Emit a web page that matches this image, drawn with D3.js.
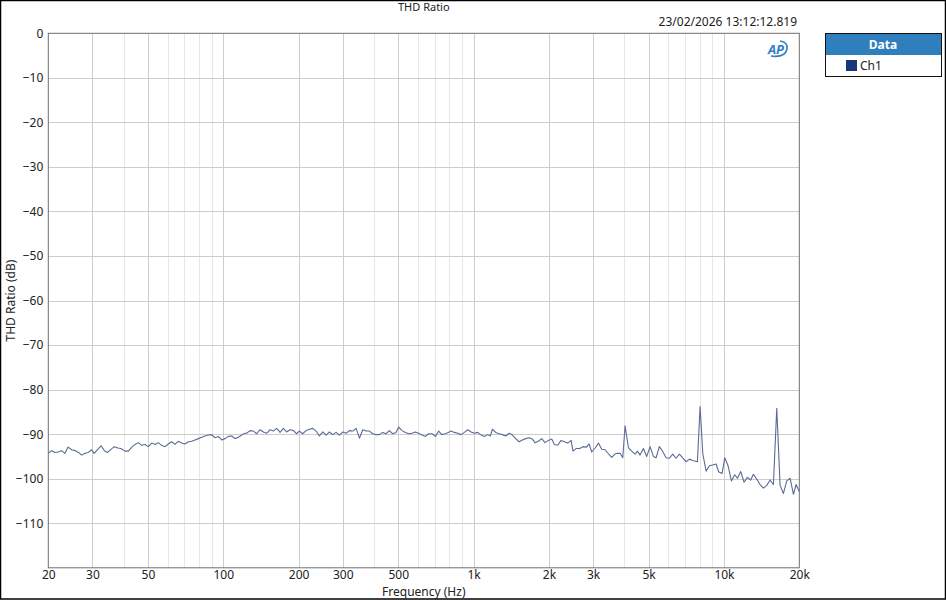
<!DOCTYPE html>
<html>
<head>
<meta charset="utf-8">
<script src="https://cdn.jsdelivr.net/npm/d3@7"></script>
<style>
  body { margin: 0; background: #fff; }
  svg { display: block; font-family: "Segoe UI", "Noto Sans", "Open Sans", sans-serif; }
</style>
</head>
<body>
<div id="chart"></div>
<script>
const freqs = [
  20.0, 20.6, 21.3, 21.9, 22.6, 23.3, 24.0, 24.8, 25.6, 26.4, 27.2, 28.0, 28.9, 29.8, 30.5,
  31.5, 32.5, 33.5, 34.5, 35.6, 36.7, 37.9, 39.0, 40.5, 41.8, 43.1, 44.4, 45.8, 47.2, 48.7,
  50.2, 51.8, 53.4, 55.0, 56.7, 58.5, 60.3, 62.2, 64.1, 66.1, 68.2, 70.3, 72.5, 74.8, 77.1,
  79.5, 82.0, 84.5, 87.2, 89.9, 92.7, 95.6, 98.6, 101.6, 104.8, 108.1, 111.4, 114.9, 118.5, 122.2,
  124.0, 127.9, 131.9, 136.0, 140.2, 144.6, 149.1, 153.8, 158.5, 163.5, 168.6, 173.8, 179.2, 184.8, 190.6,
  196.5, 201.3, 207.6, 214.1, 220.8, 227.7, 234.8, 242.1, 249.7, 257.5, 265.5, 273.8, 282.3, 291.1, 300.2,
  309.5, 319.2, 329.1, 339.3, 349.9, 360.7, 371.9, 383.5, 395.4, 407.7, 420.3, 433.4, 446.8, 460.7, 475.0,
  489.8, 502.1, 517.7, 533.8, 550.4, 567.6, 585.3, 603.5, 622.3, 641.7, 661.7, 682.3, 703.6, 725.5,
  745.8, 769.0, 793.0, 812.7, 838.1, 864.2, 891.1, 918.8, 947.5, 977.0, 1007, 1039, 1071, 1104, 1139,
  1167, 1189, 1226, 1264, 1303, 1344, 1386, 1429, 1473, 1519, 1566, 1615, 1665, 1717, 1759,
  1814, 1871, 1929, 1989, 2052, 2102, 2168, 2236, 2305, 2377, 2451, 2496, 2574, 2654, 2737,
  2823, 2892, 2964, 3057, 3152, 3250, 3352, 3456, 3564, 3675, 3789,
  3848, 3943, 4028, 4153, 4282, 4416, 4512, 4624, 4768, 4916, 5069, 5226, 5356, 5523, 5695,
  5872, 6056, 6244, 6438, 6639, 6845, 7058, 7279, 7505, 7834, 8031, 8230, 8486, 8750, 9022,
  9303, 9533, 9830, 10074, 10388, 10710, 11044, 11318, 11671, 12034, 12409, 12795, 13112, 13520, 13942,
  14376, 14825, 15287, 15762, 16255, 16762, 17284, 17822, 18378, 18952, 19422, 20000
];
const thd = [
  -94.3, -93.7, -94.1, -94.0, -93.7, -94.3, -92.9, -93.5, -93.7, -94.1, -94.7, -94.3, -94.1, -93.5, -94.3,
  -93.4, -92.6, -93.7, -94.1, -93.4, -92.8, -93.1, -93.2, -93.8, -93.8, -92.9, -92.3, -91.9, -92.5, -92.3,
  -92.8, -92.0, -92.3, -91.9, -92.5, -92.8, -92.2, -91.7, -92.3, -91.6, -92.0, -92.2, -91.7, -91.6, -91.3,
  -91.0, -90.7, -90.4, -90.2, -90.1, -90.8, -90.5, -91.3, -91.0, -90.5, -90.4, -91.0, -90.7, -90.2, -89.8,
  -89.8, -89.2, -89.3, -89.9, -89.0, -89.5, -89.8, -89.0, -89.3, -88.7, -89.6, -88.7, -89.5, -89.0, -89.2,
  -89.9, -89.3, -89.9, -89.2, -88.9, -88.7, -89.3, -90.4, -89.5, -90.2, -89.5, -90.1, -89.6, -90.2, -89.5,
  -89.8, -89.2, -89.3, -88.7, -90.9, -89.0, -89.3, -89.3, -89.9, -90.1, -90.1, -89.6, -89.9, -89.2, -89.9,
  -89.6, -88.4, -89.2, -89.6, -89.9, -89.8, -89.5, -89.8, -90.2, -90.5, -89.9, -89.9, -90.5, -89.3,
  -90.1, -89.9, -89.6, -89.3, -89.6, -89.8, -90.1, -89.6, -89.0, -89.5, -89.8, -89.6, -90.2, -90.5, -90.1,
  -90.4, -88.9, -89.6, -89.9, -90.1, -90.4, -89.8, -90.2, -91.0, -91.7, -91.3, -91.0, -90.8, -91.1, -91.9,
  -91.6, -91.0, -91.9, -91.4, -91.1, -92.3, -92.5, -91.4, -91.7, -92.0, -91.4, -93.8, -93.2, -93.2, -92.8,
  -92.9, -92.2, -94.0, -93.1, -92.0, -93.4, -93.5, -94.4, -95.2, -94.4, -94.3,
  -94.3, -95.3, -88.1, -93.0, -93.8, -94.5, -93.8, -94.7, -93.2, -95.0, -92.8, -95.0, -95.3, -92.8, -93.9,
  -95.3, -95.4, -94.5, -95.4, -94.5, -95.3, -96.2, -95.6, -95.9, -96.2, -83.8, -94.3, -98.3, -97.1, -96.9,
  -96.7, -98.5, -98.8, -95.3, -97.1, -100.5, -99.1, -99.9, -98.4, -100.8, -99.7, -100.3, -99.0, -100.1, -101.3,
  -102.1, -101.5, -100.3, -101.3, -84.2, -101.5, -103.3, -100.5, -99.9, -103.5, -101.3, -102.9
];

const xTickVals = [20, 30, 50, 100, 200, 300, 500, 1000, 2000, 3000, 5000, 10000, 20000];
const xTickLabels = ["20", "30", "50", "100", "200", "300", "500", "1k", "2k", "3k", "5k", "10k", "20k"];
const yTickVals = [0, -10, -20, -30, -40, -50, -60, -70, -80, -90, -100, -110];

const width = 946, height = 600;
const plotLeft = 48.3, plotRight = 799.3, plotTop = 33.3, plotBottom = 567.8;

const svg = d3.select("#chart").append("svg")
    .attr("width", width)
    .attr("height", height);

const x = d3.scaleLog().domain([20, 20000]).range([plotLeft, plotRight]);
const y = d3.scaleLinear().domain([-120, 0]).range([plotBottom, plotTop]);

// outer frame
svg.append("rect")
    .attr("x", 0.5).attr("y", 0.5)
    .attr("width", width - 1).attr("height", height - 1.5)
    .attr("fill", "none").attr("stroke", "#000").attr("stroke-width", 1.5);

// grid: every 1..9 multiple on the log axis, labelled ones a bit darker
const gridFreqs = [];
for (let dec = 10; dec <= 10000; dec *= 10) {
    for (let m = 1; m <= 9; m++) {
        const f = m * dec;
        if (f > 20 && f < 20000) gridFreqs.push(f);
    }
}
svg.append("g").selectAll("line")
    .data(gridFreqs)
    .enter().append("line")
    .attr("x1", d => Math.round(x(d)) + 0.5).attr("x2", d => Math.round(x(d)) + 0.5)
    .attr("y1", plotTop).attr("y2", plotBottom)
    .attr("stroke", d => xTickVals.includes(d) ? "#cdcdcd" : "#e6e6e6")
    .attr("stroke-width", 1);

svg.append("g").selectAll("line")
    .data(yTickVals.filter(d => d !== 0))
    .enter().append("line")
    .attr("x1", plotLeft).attr("x2", plotRight)
    .attr("y1", d => Math.round(y(d)) + 0.5).attr("y2", d => Math.round(y(d)) + 0.5)
    .attr("stroke", "#cdcdcd").attr("stroke-width", 1);

// plot frame
svg.append("rect")
    .attr("x", plotLeft).attr("y", plotTop)
    .attr("width", plotRight - plotLeft).attr("height", plotBottom - plotTop)
    .attr("fill", "none").attr("stroke", "#6e6e6e").attr("stroke-width", 1);

// axes
const xAxis = svg.append("g")
    .attr("transform", `translate(0, ${plotBottom})`)
    .call(d3.axisBottom(x)
        .tickValues(xTickVals)
        .tickFormat((d, i) => xTickLabels[i])
        .tickSize(0)
        .tickPadding(3));
xAxis.select(".domain").remove();
xAxis.selectAll("text").attr("font-size", 12).attr("fill", "#222")
    .style("font-family", "\"Segoe UI\", \"Noto Sans\", sans-serif");

const yAxis = svg.append("g")
    .attr("transform", `translate(${plotLeft}, 0)`)
    .call(d3.axisLeft(y)
        .tickValues(yTickVals)
        .tickFormat(d3.format("d"))
        .tickSize(0)
        .tickPadding(5));
yAxis.select(".domain").remove();
yAxis.selectAll("text").attr("font-size", 12).attr("fill", "#222")
    .style("font-family", "\"Segoe UI\", \"Noto Sans\", sans-serif");

// data line
const data = freqs.map((f, i) => ({ f: f, v: thd[i] }));
const line = d3.line()
    .x(d => x(d.f))
    .y(d => y(d.v));

svg.append("path")
    .datum(data)
    .attr("fill", "none")
    .attr("stroke", "#5a6b95")
    .attr("stroke-width", 1.1)
    .attr("stroke-linejoin", "round")
    .attr("d", line);

// titles
svg.append("text")
    .attr("x", (plotLeft + plotRight) / 2).attr("y", 11)
    .attr("text-anchor", "middle").attr("font-size", 11).attr("fill", "#222")
    .text("THD Ratio");

svg.append("text")
    .attr("x", 797).attr("y", 26)
    .attr("text-anchor", "end").attr("font-size", 12).attr("fill", "#222")
    .text("23/02/2026 13:12:12.819");

svg.append("text")
    .attr("x", (plotLeft + plotRight) / 2).attr("y", 595.5)
    .attr("text-anchor", "middle").attr("font-size", 12).attr("fill", "#222")
    .text("Frequency (Hz)");

svg.append("text")
    .attr("transform", `translate(15, ${(plotTop + plotBottom) / 2}) rotate(-90)`)
    .attr("text-anchor", "middle").attr("font-size", 12).attr("fill", "#222")
    .text("THD Ratio (dB)");

// AP logo
const logo = svg.append("g").attr("transform", "translate(777, 49)");
logo.append("path")
    .attr("d", "M -6 7 Q 8 9 10 0 Q 11 -7 3 -8")
    .attr("fill", "none").attr("stroke", "#2f7fc4").attr("stroke-width", 1.6);
logo.append("text")
    .attr("x", -1).attr("y", 5)
    .attr("text-anchor", "middle").attr("font-size", 13)
    .attr("font-weight", "bold").attr("font-style", "italic")
    .attr("fill", "#2f7fc4")
    .text("AP");

// legend
const legend = svg.append("g").attr("transform", "translate(825, 33)");
legend.append("rect")
    .attr("x", 0.5).attr("y", 0.5).attr("width", 116).attr("height", 43)
    .attr("fill", "#fff").attr("stroke", "#111").attr("stroke-width", 1);
legend.append("rect")
    .attr("x", 1).attr("y", 1).attr("width", 115).attr("height", 21)
    .attr("fill", "#2e7fbb");
legend.append("text")
    .attr("x", 58).attr("y", 16)
    .attr("text-anchor", "middle").attr("font-size", 12).attr("font-weight", "bold")
    .attr("fill", "#fff")
    .text("Data");
legend.append("rect")
    .attr("x", 21).attr("y", 27).attr("width", 11).attr("height", 11)
    .attr("fill", "#17377a");
legend.append("text")
    .attr("x", 35).attr("y", 37)
    .attr("font-size", 12).attr("fill", "#222")
    .text("Ch1");
</script>
</body>
</html>
